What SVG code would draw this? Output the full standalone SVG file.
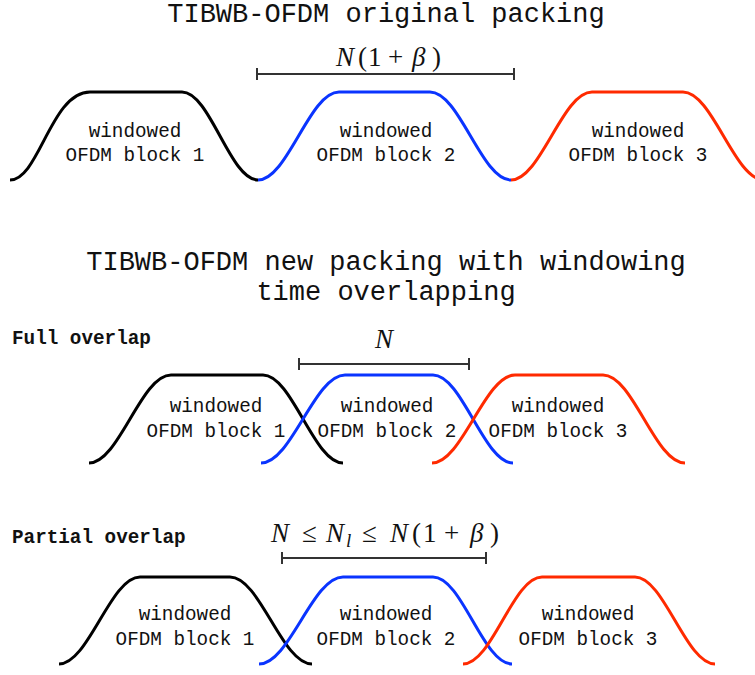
<svg xmlns="http://www.w3.org/2000/svg" width="755" height="675" viewBox="0 0 755 675">
<style>
.bg{fill:#fff}
.title{font-family:"Liberation Mono","Courier New",monospace;font-size:27px;fill:#111;text-anchor:middle}
.lbl{font-family:"Liberation Mono","Courier New",monospace;font-size:19.3px;fill:#111;text-anchor:middle}
.sec{font-family:"Liberation Mono","Courier New",monospace;font-size:19.3px;font-weight:bold;fill:#111}
.math{font-family:"Liberation Serif","Times New Roman",serif;font-size:27px;fill:#111}
.it{font-style:italic}
.p{fill:none;stroke-width:3;stroke-linecap:butt}
.k{stroke:#000}
.b{stroke:#0a34ff}
.r{stroke:#ff2a00}
.dim{stroke:#333;stroke-width:2;fill:none}
</style>
<rect class="bg" x="0" y="0" width="755" height="675"/>

<text class="title" x="386" y="22">TIBWB-OFDM original packing</text>
<text class="title" x="386" y="270">TIBWB-OFDM new packing with windowing</text>
<text class="title" x="386" y="300">time overlapping</text>
<text class="sec" x="12" y="344">Full overlap</text>
<text class="sec" x="12" y="543">Partial overlap</text>

<!-- Row 1: original packing -->
<g id="r1-block1">
<path class="p k" d="M10,180 C39,180 51,92 90,92 H182 C210,92 230,180 258,180"/>
<text class="lbl" x="135" y="137">windowed</text>
<text class="lbl" x="135" y="161">OFDM block 1</text>
</g>
<g id="r1-block2">
<path class="p b" d="M258,180 C287.5,180 309.5,92 339,92 H430 C459.5,92 481.5,180 511,180"/>
<text class="lbl" x="386" y="137">windowed</text>
<text class="lbl" x="386" y="161">OFDM block 2</text>
</g>
<g id="r1-block3">
<path class="p r" d="M511,180 C540.5,180 562.5,92 592,92 H683 C712.5,92 734.5,180 764,180"/>
<text class="lbl" x="638" y="137">windowed</text>
<text class="lbl" x="638" y="161">OFDM block 3</text>
</g>

<!-- Row 2: full overlap -->
<g id="r2-block1">
<path class="p k" d="M89,463 C119,463 141,375 171,375 H263 C292,375 314,463 343,463"/>
<text class="lbl" x="216" y="412">windowed</text>
<text class="lbl" x="216" y="437">OFDM block 1</text>
</g>
<g id="r2-block2">
<path class="p b" d="M261,463 C291.5,463 314.5,375 345,375 H433 C462,375 484,463 513,463"/>
<text class="lbl" x="387" y="412">windowed</text>
<text class="lbl" x="387" y="437">OFDM block 2</text>
</g>
<g id="r2-block3">
<path class="p r" d="M432,463 C462,463 485,375 515,375 H603 C633,375 655,463 685,463"/>
<text class="lbl" x="558" y="412">windowed</text>
<text class="lbl" x="558" y="437">OFDM block 3</text>
</g>

<!-- Row 3: partial overlap -->
<g id="r3-block1">
<path class="p k" d="M59,664 C88.5,664 110.5,577 140,577 H230 C260,577 282,664 312,664"/>
<text class="lbl" x="185" y="620">windowed</text>
<text class="lbl" x="185" y="645">OFDM block 1</text>
</g>
<g id="r3-block2">
<path class="p b" d="M259,664 C289.5,664 312.5,577 343,577 H433 C462,577 483,664 512,664"/>
<text class="lbl" x="386" y="620">windowed</text>
<text class="lbl" x="386" y="645">OFDM block 2</text>
</g>
<g id="r3-block3">
<path class="p r" d="M463,664 C492,664 513,577 542,577 H635 C664,577 686,664 715,664"/>
<text class="lbl" x="588" y="620">windowed</text>
<text class="lbl" x="588" y="645">OFDM block 3</text>
</g>

<!-- Dimension markers -->
<g id="connectors">
<path class="dim" d="M257,74 H514 M257,68 V80 M514,68 V80"/>
<path class="dim" d="M299,364 H469 M299,358 V370 M469,358 V370"/>
<path class="dim" d="M282,558 H486 M282,552 V564 M486,552 V564"/>
</g>

<g id="dim-labels">
<text class="math" y="66"><tspan class="it" x="336">N</tspan><tspan x="358">(</tspan><tspan x="368">1</tspan><tspan x="388">+</tspan><tspan class="it" x="412">β</tspan><tspan x="432">)</tspan></text>
<text class="math" y="348"><tspan class="it" x="375">N</tspan></text>
<text class="math" y="542"><tspan class="it" x="271">N</tspan><tspan x="302">≤</tspan><tspan class="it" x="326">N</tspan><tspan class="it" x="346" dy="5" style="font-size:19px">l</tspan><tspan x="362" dy="-5">≤</tspan><tspan class="it" x="390">N</tspan><tspan x="412">(</tspan><tspan x="423">1</tspan><tspan x="444">+</tspan><tspan class="it" x="470">β</tspan><tspan x="490">)</tspan></text>
</g>
</svg>
